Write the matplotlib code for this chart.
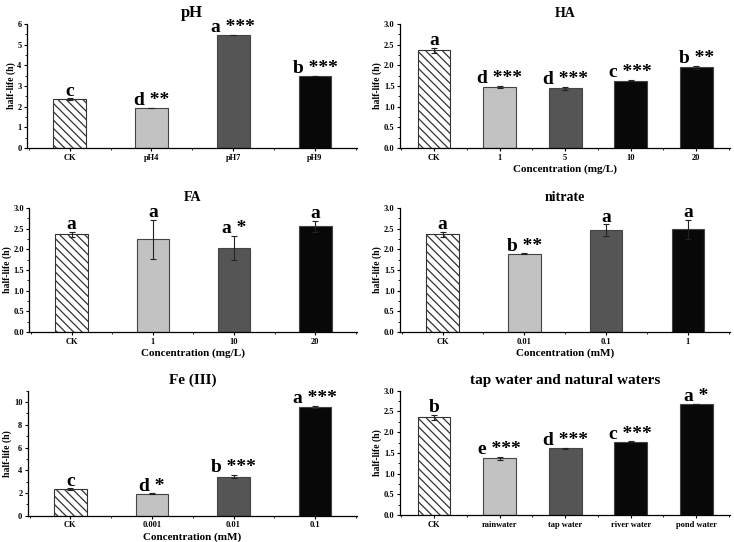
import numpy as np
import matplotlib
matplotlib.use('Agg')
import matplotlib.pyplot as plt
from matplotlib.ticker import MultipleLocator

plt.rcParams['font.family'] = ['Liberation Serif', 'DejaVu Serif']
plt.rcParams['font.weight'] = 'bold'
plt.rcParams['hatch.linewidth'] = 0.9

# pH
ph_cats = ['CK', 'pH4', 'pH7', 'pH9']
ph_vals = [2.35, 1.92, 5.47, 3.48]
ph_err = [0.05, 0.01, 0.01, 0.01]
ph_marks = ['c', 'd **', 'a ***', 'b ***']

# HA
ha_cats = ['CK', '1', '5', '10', '20']
ha_vals = [2.36, 1.47, 1.44, 1.63, 1.95]
ha_err = [0.06, 0.03, 0.03, 0.01, 0.04]
ha_marks = ['a', 'd ***', 'd ***', 'c ***', 'b **']

# FA
fa_cats = ['CK', '1', '10', '20']
fa_vals = [2.36, 2.24, 2.03, 2.55]
fa_err = [0.06, 0.47, 0.29, 0.14]
fa_marks = ['a', 'a', 'a *', 'a']

# nitrate
no3_cats = ['CK', '0.01', '0.1', '1']
no3_vals = [2.36, 1.89, 2.46, 2.48]
no3_err = [0.06, 0.01, 0.14, 0.23]
no3_marks = ['a', 'b **', 'a', 'a']

# Fe (III)
fe_cats = ['CK', '0.001', '0.01', '0.1']
fe_vals = [2.35, 1.95, 3.45, 9.6]
fe_err = [0.05, 0.02, 0.15, 0.08]
fe_marks = ['c', 'd *', 'b ***', 'a ***']

# natural waters
w_cats = ['CK', 'rainwater', 'tap water', 'river water', 'pond water']
w_vals = [2.36, 1.37, 1.61, 1.77, 2.68]
w_err = [0.06, 0.03, 0.01, 0.01, 0.01]
w_marks = ['b', 'e ***', 'd ***', 'c ***', 'a *']

LIGHT = '#c2c2c2'
DARK = '#555555'
BLACK = '#080808'


def panel(rect, title, cats, vals, err, marks, colors, ymax, ystep, fmt,
          xlabel=None, tsize=10, width=0.4):
    ax = fig.add_axes(rect)
    x = np.arange(len(cats))
    for i in range(len(cats)):
        if i == 0:
            ax.bar(x[i], vals[i], width, color='white', edgecolor='#333333',
                   hatch='\\\\\\\\', linewidth=0.8, zorder=2)
        else:
            ax.bar(x[i], vals[i], width, color=colors[i - 1], edgecolor='#444444',
                   linewidth=0.8, zorder=2)
    ax.errorbar(x, vals, yerr=err, fmt='none', ecolor='#222222', elinewidth=0.8,
                capsize=2, capthick=0.8, zorder=3)
    for i in range(len(cats)):
        ax.annotate(marks[i], (x[i], vals[i] + err[i]), xytext=(0, 2),
                    textcoords='offset points', ha='center', va='baseline',
                    fontsize=14, fontweight='bold')
    ax.set_xlim(-0.52, len(cats) - 0.49)
    ax.set_ylim(0, ymax)
    ax.set_xticks(x)
    ax.set_xticklabels(cats, fontsize=6, fontweight='bold')
    ax.xaxis.set_minor_locator(MultipleLocator(0.5))
    ax.yaxis.set_major_locator(MultipleLocator(ystep))
    ax.yaxis.set_minor_locator(MultipleLocator(ystep / 2))
    ax.yaxis.set_major_formatter(fmt)
    ax.tick_params(axis='both', labelsize=6, width=0.8, length=2.5, pad=1.5)
    ax.tick_params(which='minor', width=0.6, length=1.5)
    ax.spines['top'].set_visible(False)
    ax.spines['right'].set_visible(False)
    ax.spines['left'].set_linewidth(0.9)
    ax.spines['bottom'].set_linewidth(0.9)
    ax.set_ylabel('half-life (h)', fontsize=7, fontweight='bold', labelpad=1)
    if xlabel:
        ax.set_xlabel(xlabel, fontsize=8, fontweight='bold', labelpad=2)
    ax.set_title(title, fontsize=tsize, fontweight='bold', pad=5)
    return ax


fig = plt.figure(figsize=(7.34, 5.42), dpi=100)

panel([0.037, 0.727, 0.449, 0.229], 'pH', ph_cats, ph_vals, ph_err, ph_marks,
      [LIGHT, DARK, BLACK], 6, 1, '{x:.0f}', tsize=12)
panel([0.545, 0.727, 0.449, 0.229], 'HA', ha_cats, ha_vals, ha_err, ha_marks,
      [LIGHT, DARK, BLACK, BLACK], 3.0, 0.5, '{x:.1f}',
      xlabel='Concentration (mg/L)', tsize=10, width=0.5)
panel([0.040, 0.3875, 0.446, 0.229], 'FA', fa_cats, fa_vals, fa_err, fa_marks,
      [LIGHT, DARK, BLACK], 3.0, 0.5, '{x:.1f}',
      xlabel='Concentration (mg/L)', tsize=10)
panel([0.545, 0.3875, 0.449, 0.229], 'nitrate', no3_cats, no3_vals, no3_err, no3_marks,
      [LIGHT, DARK, BLACK], 3.0, 0.5, '{x:.1f}',
      xlabel='Concentration (mM)', tsize=10)
panel([0.038, 0.0485, 0.448, 0.2305], 'Fe (III)', fe_cats, fe_vals, fe_err, fe_marks,
      [LIGHT, DARK, BLACK], 11, 2, '{x:.0f}',
      xlabel='Concentration (mM)', tsize=11)
panel([0.545, 0.0498, 0.449, 0.2292], 'tap water and natural waters', w_cats, w_vals,
      w_err, w_marks, [LIGHT, DARK, BLACK, BLACK], 3.0, 0.5, '{x:.1f}',
      tsize=11, width=0.5)

fig.savefig('out.png', dpi=100)
